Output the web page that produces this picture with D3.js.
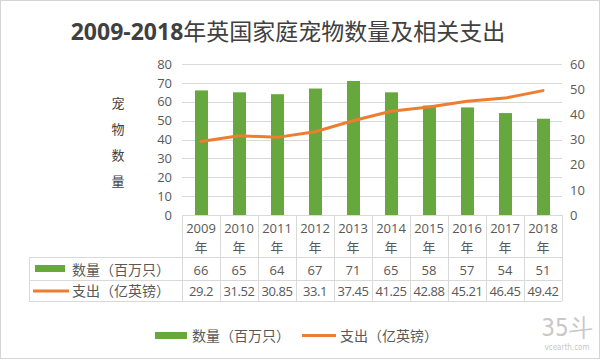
<!DOCTYPE html>
<html><head><meta charset="utf-8">
<script src="https://cdn.jsdelivr.net/npm/d3@7"></script>
<style>
body{margin:0;background:#fff;}
svg{display:block;font-family:"Noto Sans CJK SC","Noto Sans",sans-serif;}
</style></head>
<body><svg id="c" width="600" height="360"></svg>
<script>
const years = ["2009","2010","2011","2012","2013","2014","2015","2016","2017","2018"];
const counts = [66,65,64,67,71,65,58,57,54,51];
const spend = [29.2,31.52,30.85,33.1,37.45,41.25,42.88,45.21,46.45,49.42];
const spendLabels = ["29.2","31.52","30.85","33.1","37.45","41.25","42.88","45.21","46.45","49.42"];
const leftTicks = [0,10,20,30,40,50,60,70,80];
const rightTicks = [0,10,20,30,40,50,60];
const seriesNames = ["数量（百万只）","支出（亿英镑）"];
const title = "2009-2018年英国家庭宠物数量及相关支出";
const yTitle = ["宠","物","数","量"];

const green = "#66a83e", orange = "#ed7d31", grid = "#d9d9d9", txt = "#595959";
const svg = d3.select("#c");
svg.append("rect").attr("x",0.5).attr("y",0.5).attr("width",599).attr("height",358)
  .attr("fill","#fff").attr("stroke","#d4d4d4");

const L = 182, R = 562, T = 64, B = 215;
const x = d3.scaleBand().domain(years).range([L,R]);
const yL = d3.scaleLinear().domain([0,80]).range([B,T]);
const yR = d3.scaleLinear().domain([0,60]).range([B,T]);

// title
const t = svg.append("text").attr("x",288).attr("y",40).attr("text-anchor","middle")
  .attr("fill","#404040").attr("font-size",23);
t.append("tspan").attr("font-weight","bold").attr("font-family","'Open Sans',sans-serif").text("2009-2018");
t.append("tspan").attr("font-weight","normal").text(title.slice(9));

// gridlines
svg.append("g").selectAll("line").data(leftTicks.filter(d=>d>0)).join("line")
  .attr("x1",L).attr("x2",R).attr("y1",d=>Math.round(yL(d))+0.5).attr("y2",d=>Math.round(yL(d))+0.5)
  .attr("stroke",grid).attr("stroke-width",1);

// left axis
const ga = svg.append("g").attr("transform",`translate(${L-10},0)`)
  .call(d3.axisLeft(yL).tickValues(leftTicks).tickSize(0).tickPadding(0));
ga.select(".domain").remove();
ga.selectAll("text").attr("fill",txt).attr("font-size",13).attr("font-family","'Open Sans',sans-serif");

// right axis
const gr = svg.append("g").attr("transform",`translate(${R+8},0)`)
  .call(d3.axisRight(yR).tickValues(rightTicks).tickSize(0).tickPadding(0));
gr.select(".domain").remove();
gr.selectAll("text").attr("fill",txt).attr("font-size",13).attr("font-family","'Open Sans',sans-serif");

// y title
svg.append("g").selectAll("text").data(yTitle).join("text")
  .attr("x",118).attr("y",(d,i)=>108+i*26).attr("text-anchor","middle")
  .attr("font-size",13).attr("fill","#404040").text(d=>d);

// bars
const bw = 13;
svg.append("g").selectAll("rect").data(counts).join("rect")
  .attr("x",(d,i)=>x(years[i])+x.bandwidth()/2-bw/2+0.5).attr("width",bw)
  .attr("y",d=>yL(d)).attr("height",d=>yL(0)-yL(d)).attr("fill",green);

// line
svg.append("path").datum(spend)
  .attr("d",d3.line().x((d,i)=>x(years[i])+x.bandwidth()/2).y(d=>yR(d)))
  .attr("fill","none").attr("stroke",orange).attr("stroke-width",3).attr("stroke-linecap","round").attr("stroke-linejoin","round");

// table
const tb = svg.append("g");
const r0 = B, r1 = 257, r2 = 280, r3 = 301, LC = 29;
const hl = [[L,R,r0],[LC,R,r1],[LC,R,r2],[LC,R,r3]];
tb.selectAll("line.h").data(hl).join("line").attr("class","h")
  .attr("x1",d=>d[0]).attr("x2",d=>d[1]).attr("y1",d=>d[2]+0.5).attr("y2",d=>d[2]+0.5)
  .attr("stroke",grid);
const vx = years.map(y=>x(y)).concat([R]);
tb.selectAll("line.v").data(vx).join("line").attr("class","v")
  .attr("x1",d=>Math.round(d)+0.5).attr("x2",d=>Math.round(d)+0.5).attr("y1",r0).attr("y2",r3)
  .attr("stroke",grid);
tb.append("line").attr("x1",LC+0.5).attr("x2",LC+0.5).attr("y1",r1).attr("y2",r3).attr("stroke",grid);

const cx = y => x(y)+x.bandwidth()/2;
tb.selectAll("text.yr").data(years).join("text").attr("class","yr")
  .attr("x",cx).attr("y",233).attr("text-anchor","middle").attr("font-size",13)
  .attr("font-family","'Open Sans',sans-serif").attr("fill",txt).text(d=>d);
tb.selectAll("text.nian").data(years).join("text").attr("class","nian")
  .attr("x",cx).attr("y",252).attr("text-anchor","middle").attr("font-size",13)
  .attr("fill",txt).text("年");
tb.selectAll("text.c").data(counts).join("text").attr("class","c")
  .attr("x",(d,i)=>cx(years[i])).attr("y",275).attr("text-anchor","middle").attr("font-size",13)
  .attr("font-family","'Open Sans',sans-serif").attr("fill",txt).text(d=>d);
tb.selectAll("text.s").data(spendLabels).join("text").attr("class","s")
  .attr("x",(d,i)=>cx(years[i])).attr("y",296).attr("text-anchor","middle").attr("font-size",13)
  .attr("font-family","'Open Sans',sans-serif").attr("letter-spacing","-0.4").attr("fill",txt).text(d=>d);

tb.append("rect").attr("x",35).attr("y",265).attr("width",30).attr("height",7).attr("fill",green);
tb.append("line").attr("x1",33).attr("x2",69).attr("y1",291).attr("y2",291).attr("stroke",orange).attr("stroke-width",3);
tb.append("text").attr("x",72).attr("y",275).attr("font-size",14).attr("fill",txt).text(seriesNames[0]);
tb.append("text").attr("x",72).attr("y",296).attr("font-size",14).attr("fill",txt).text(seriesNames[1]);

// bottom legend
const lg = svg.append("g");
lg.append("rect").attr("x",155).attr("y",332).attr("width",32).attr("height",7).attr("fill",green);
lg.append("text").attr("x",192).attr("y",341).attr("font-size",14).attr("fill",txt).text(seriesNames[0]);
lg.append("line").attr("x1",302).attr("x2",336).attr("y1",335.5).attr("y2",335.5).attr("stroke",orange).attr("stroke-width",3);
lg.append("text").attr("x",340).attr("y",341).attr("font-size",14).attr("fill",txt).text(seriesNames[1]);

// watermark
svg.append("text").attr("x",567).attr("y",336).attr("text-anchor","middle").attr("font-size",24)
  .attr("fill","#c8c8c8").attr("font-family","'Liberation Sans Narrow','DejaVu Sans Condensed',sans-serif").text("35斗");
svg.append("text").attr("x",567).attr("y",350).attr("text-anchor","middle").attr("font-size",8)
  .attr("fill","#c8c8c8").attr("font-family","'DejaVu Sans Condensed',sans-serif").text("vcearth.com");
</script></body></html>
